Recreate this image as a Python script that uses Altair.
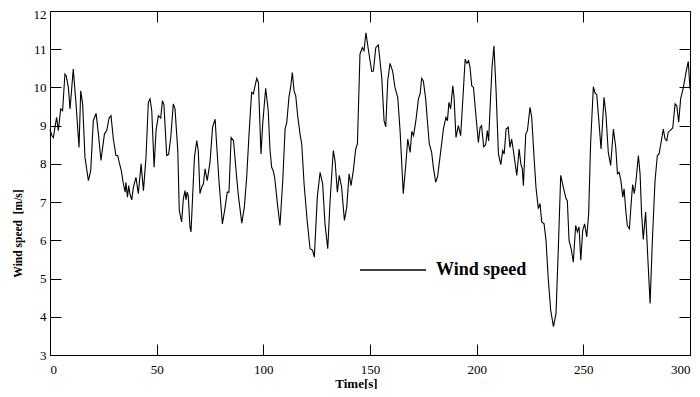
import altair as alt
import pandas as pd

# ---- data ----
time_s = [
    0, 0.8, 1.6, 2.3, 3.1, 3.9, 5.0, 5.9, 7.0, 7.6, 8.6, 9.4, 10.9, 12.2, 13.6, 14.4, 15.3,
    16.4, 18.0, 19.1, 20.3, 21.6, 22.7, 23.9, 25.5, 26.6, 27.7, 28.6, 29.7, 30.9, 31.7,
    32.8, 33.4, 34.4, 35.2, 35.6, 36.3, 36.9, 37.5, 38.3, 39.1, 40.3, 41.4, 42.7, 43.8,
    45.0, 46.1, 46.9, 47.7, 48.8, 49.7, 50.8, 51.9, 52.7, 53.4, 54.7, 55.6, 56.6, 57.8,
    58.6, 59.9, 60.6, 61.7, 62.5, 63.3, 63.7, 64.3, 64.8, 65.6, 66.1, 67.7, 68.8, 69.5,
    70.3, 71.1, 71.9, 72.7, 73.7, 75.0, 76.2, 77.4, 78.0, 79.2, 80.8, 82.0, 83.1, 83.9,
    84.9, 86.0, 87.5, 88.3, 89.9, 91.1, 92.2, 93.3, 94.5, 95.3, 96.9, 97.7, 98.9, 99.7,
    101.1, 102.3, 103.1, 103.9, 104.6, 105.3, 106.6, 107.8, 109.1, 110.2, 111.0, 112.0,
    112.8, 113.6, 114.4, 115.2, 116.1, 117.2, 118.0, 119.1, 120.6, 121.9, 123.1, 123.9,
    125.3, 126.6, 127.8, 128.9, 130.2, 131.3, 132.8, 133.6, 134.7, 135.6, 136.7, 138.0,
    139.1, 140.2, 141.1, 142.2, 143.3, 144.1, 145.3, 146.4, 147.2, 148.1, 149.2, 150.8,
    151.6, 152.7, 153.9, 155.5, 156.6, 157.4, 158.3, 159.4, 160.6, 161.7, 163.0, 164.1,
    165.6, 166.8, 167.7, 168.8, 169.6, 170.4, 171.5, 172.7, 173.5, 174.2, 175.0, 176.1,
    176.9, 177.8, 178.9, 179.7, 180.8, 181.7, 182.8, 184.4, 185.6, 186.3, 187.0, 187.8,
    188.8, 189.4, 190.3, 191.4, 192.5, 193.8, 194.6, 195.4, 196.2, 196.9, 197.7, 198.5,
    199.6, 200.8, 201.6, 202.3, 203.3, 204.2, 205.0, 205.6, 206.3, 207.2, 208.1, 209.1,
    210.2, 211.3, 212.2, 212.9, 213.8, 214.8, 215.6, 216.4, 217.2, 218.8, 219.9, 220.7,
    221.4, 221.9, 223.0, 223.8, 225.0, 225.8, 226.9, 227.8, 228.9, 229.7, 230.5, 231.6,
    232.5, 233.6, 234.7, 236.0, 237.2, 238.3, 239.4, 240.6, 241.9, 242.5, 243.3, 244.3,
    245.3, 246.4, 247.2, 248.0, 248.8, 249.7, 250.6, 251.6, 252.5, 253.4, 254.7, 255.5,
    256.3, 257.4, 258.3, 259.7, 260.6, 261.7, 262.8, 264.1, 265.2, 266.0, 266.8, 267.6,
    268.5, 269.1, 269.9, 270.6, 271.6, 272.3, 273.1, 273.9, 274.7, 275.8, 276.6, 277.3,
    278.1, 279.2, 280.2, 281.3, 282.3, 283.6, 284.7, 285.5, 286.3, 287.5, 288.3, 289.1,
    289.8, 290.6, 291.9, 293.0, 293.8, 294.7, 295.6, 296.9, 298.1, 299.2, 300.0,
]
wind_speed = [
    8.9, 8.75, 8.69, 8.95, 9.22, 8.87, 9.44, 9.39, 10.35, 10.3, 10.0, 9.44, 10.48, 9.57, 8.43, 9.91, 9.57,
    8.17, 7.56, 7.83, 9.13, 9.32, 8.78, 8.09, 8.78, 8.87, 9.2, 9.26, 8.65, 8.22, 8.22,
    7.96, 7.83, 7.48, 7.26, 7.52, 7.13, 7.43, 7.2, 7.06, 7.39, 7.65, 7.22, 8.0, 7.3,
    8.17, 9.61, 9.7, 9.39, 7.91, 8.87, 9.26, 9.2, 9.65, 9.55, 8.22, 8.25, 8.69, 9.57,
    9.44, 8.35, 6.78, 6.48, 7.09, 7.30, 7.06, 7.26, 7.17, 6.35, 6.22, 8.17, 8.61, 8.35,
    7.22, 7.39, 7.48, 7.87, 7.56, 8.04, 8.96, 9.17, 8.61, 7.56, 6.43, 6.83, 7.26, 7.26,
    8.69, 8.61, 7.65, 7.17, 6.45, 6.87, 7.65, 8.78, 9.87, 9.83, 10.24, 10.13, 8.26, 9.04,
    9.98, 9.39, 8.39, 7.91, 7.83, 7.65, 6.96, 6.39, 7.56, 8.91, 9.09, 9.74,
    10.0, 10.39, 9.91, 9.78, 9.26, 8.78, 8.52, 7.48, 6.48, 5.78, 5.74, 5.56,
    7.13, 7.78, 7.48, 6.43, 5.78, 7.04, 8.35, 8.09, 7.26, 7.70, 7.39, 6.52,
    6.87, 7.74, 7.43, 7.83, 8.39, 8.52, 10.87, 11.04, 10.96, 11.43, 11.0, 10.42,
    10.43, 11.04, 11.11, 10.26, 9.13, 8.97, 10.17, 10.63, 10.43, 10.0, 9.74, 8.87,
    7.22, 8.0, 8.65, 8.30, 8.85, 8.74, 9.13, 9.70, 9.83, 10.24, 10.17, 9.70,
    9.13, 8.52, 8.30, 7.91, 7.52, 7.67, 8.17, 8.91, 9.22, 9.13, 9.61, 9.44,
    10.04, 9.74, 8.69, 9.0, 8.74, 9.96, 10.74, 10.63, 10.70, 10.52, 10.04, 10.0,
    9.30, 8.56, 8.95, 9.0, 8.45, 8.50, 8.87, 8.6, 9.48, 10.52, 11.09, 9.91,
    8.26, 7.98, 8.35, 8.26, 8.91, 8.96, 8.43, 8.65, 8.35, 7.70, 8.39, 8.0,
    7.87, 7.43, 8.78, 8.87, 9.48, 9.22, 8.17, 7.39, 6.83, 6.96, 6.48, 6.43,
    6.0, 4.96, 4.17, 3.74, 4.09, 5.83, 7.70, 7.39, 7.09, 7.04, 6.0, 5.78,
    5.43, 6.39, 6.22, 6.35, 5.48, 6.26, 6.43, 6.09, 6.7, 8.52, 10.02, 9.85,
    9.81, 9.04, 8.39, 9.74, 9.30, 8.30, 7.96, 8.91, 8.43, 7.74, 7.78, 7.56,
    7.13, 7.35, 6.78, 6.39, 6.30, 6.87, 7.46, 7.22, 7.56, 8.22, 7.74, 6.70,
    6.02, 6.74, 5.57, 4.35, 5.91, 7.56, 8.22, 8.26, 8.52, 8.91, 8.65, 8.61,
    8.83, 8.87, 8.94, 9.57, 9.52, 9.09, 9.70, 10.0, 10.39, 10.68, 9.96,
]
series_name = ["Wind speed"]
x_ticks = [0, 50, 100, 150, 200, 250, 300]
y_ticks = [3, 4, 5, 6, 7, 8, 9, 10, 11, 12]

df = pd.DataFrame({"t": time_s, "v": wind_speed})
df["series"] = series_name[0]

FONT = "Liberation Serif"
TICK = 11
x_scale = alt.Scale(domain=[0, 300], nice=False, zero=False)
y_scale = alt.Scale(domain=[3, 12], nice=False, zero=False)

common_axis = dict(
    domain=False, grid=False, tickColor="black", tickWidth=1, tickSize=TICK,
    offset=-TICK, labelFont=FONT, labelFontSize=13, labelColor="black",
    titleFont=FONT, titleFontWeight="bold", titleColor="black",
)

line = alt.Chart(df).mark_line(strokeWidth=1.1, color="black").encode(
    x=alt.X("t:Q", scale=x_scale,
            axis=alt.Axis(orient="bottom", values=x_ticks, title="Time[s]",
                          labelPadding=8, titlePadding=1, titleFontSize=13,
                          titleX=306, format="d", **common_axis)),
    y=alt.Y("v:Q", scale=y_scale,
            axis=alt.Axis(orient="left", values=y_ticks, title="Wind speed \u00a0[m/s]",
                          labelPadding=4, titlePadding=10, titleFontSize=11.5,
                          titleY=222, format="d",
                          labelOffset=alt.condition("datum.value == 12", alt.value(3), alt.value(0)),
                          **common_axis)),
    color=alt.Color("series:N", scale=alt.Scale(range=["black"]),
                    legend=alt.Legend(orient="none", legendX=309, legendY=225, title=None,
                                      symbolType="stroke", symbolSize=4356,
                                      symbolStrokeWidth=1.5, symbolStrokeColor="black",
                                      labelFont=FONT, labelFontSize=18, labelFontWeight="bold",
                                      labelColor="black", labelOffset=9, padding=0)),
)

frame_axis = dict(domain=False, grid=False, tickColor="black", tickWidth=1,
                  labels=False, title=None, tickSize=TICK, offset=-TICK)
frame = alt.Chart(df).mark_point(opacity=0).encode(
    x=alt.X("t:Q", scale=x_scale,
            axis=alt.Axis(orient="top", values=x_ticks, **frame_axis)),
    y=alt.Y("v:Q", scale=y_scale,
            axis=alt.Axis(orient="right", values=y_ticks, **frame_axis)),
)

chart = alt.layer(line, frame).resolve_axis(x="independent", y="independent").properties(
    width=640, height=344,
    autosize=alt.AutoSizeParams(type="none"),
    padding={"left": 42, "top": 3, "right": 2, "bottom": 34},
    background="white",
).configure_view(stroke="black", strokeWidth=1)

chart.save("out.html", embed_options={"renderer": "svg", "actions": False})
